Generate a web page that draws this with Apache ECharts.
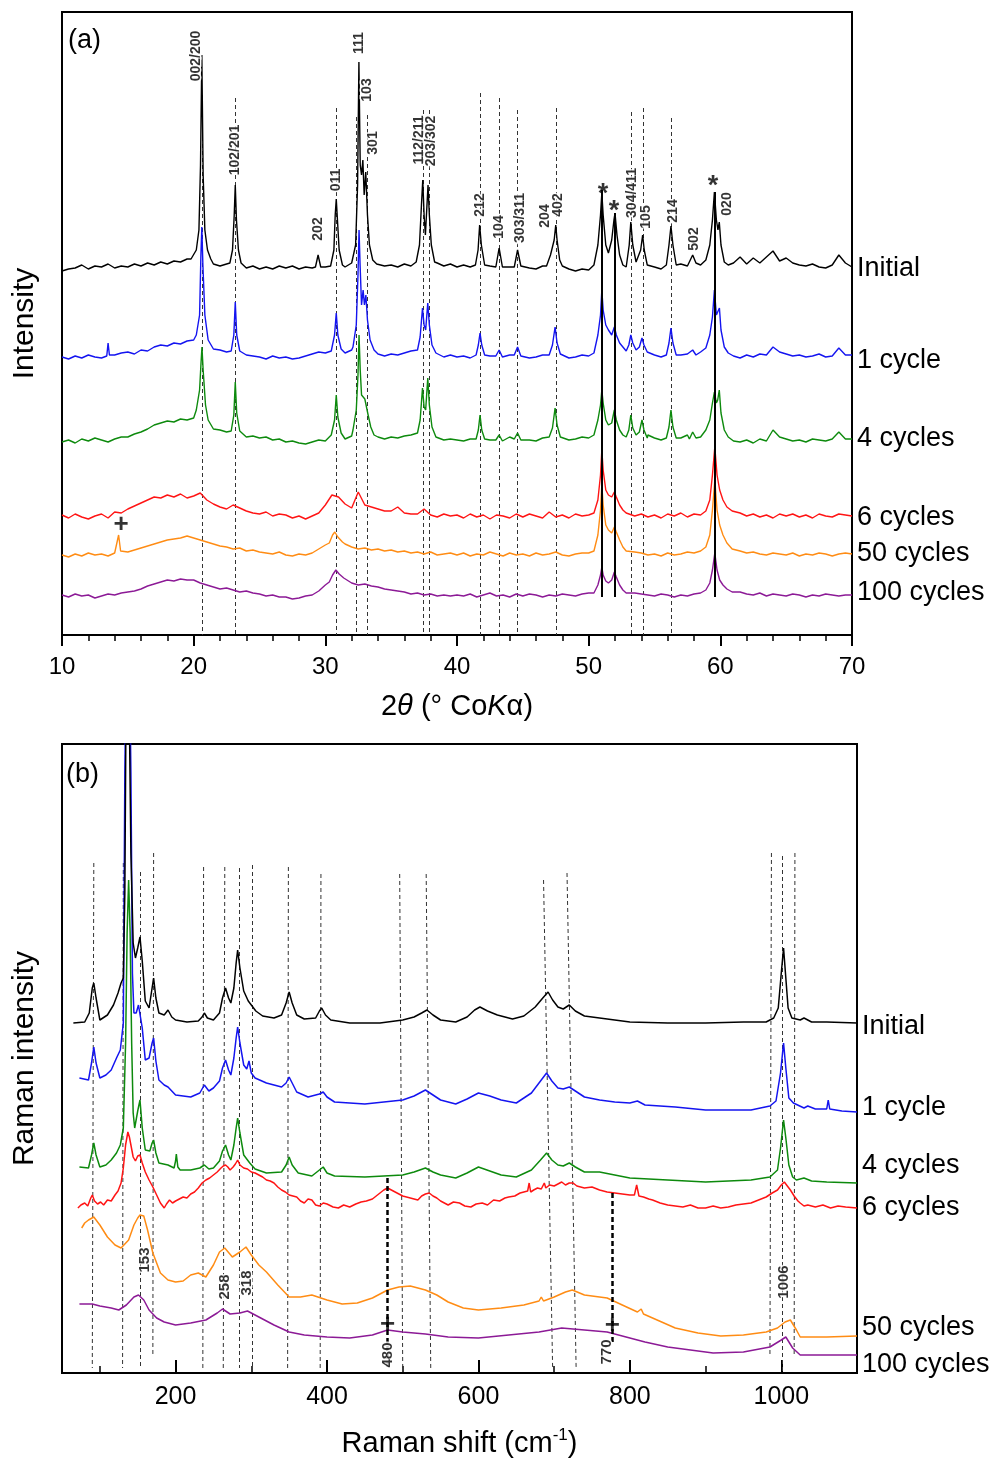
<!DOCTYPE html>
<html><head><meta charset="utf-8">
<script src="https://cdn.jsdelivr.net/npm/echarts/dist/echarts.min.js"></script>
<style>html,body{margin:0;padding:0;background:#fff}#c{width:997px;height:1460px}</style>
</head><body><div id="c"></div>
<script>
// ---------------- (a) XRD data ----------------
const xrdNames = ['Initial','1 cycle','4 cycles','6 cycles','50 cycles','100 cycles'];
const xrdX0 = 10, xrdDx = 0.5; // baseline sampling in degrees 2θ
const xrdBaseInitial = [
364,366,367,370,366,369,368,371,367,369, 368,371,369,372,370,373,371,374,373,376,
378,380,375,371,369,371,372,370,367,369, 366,368,366,369,367,369,366,368,367,370,
368,371,369,368,370,372,374,373,371,369, 370,368,371,369,372,373,374,372,369,371,
368,370,368,371,372,369,367,370,368,371, 370,367,366,369,370,372,368,366,364,366,
365,370,372,375,370,372,368,369,371,368, 368,366,369,368,371,369,368,370,372,375,
373,370,372,378,371,377,372,378,384,374, 377,372,370,369,371,368,367,370,380,372, 368];
const xrdPeaksInitial = [
 [[19.8,376],[20.2,385],[20.4,405],[20.52,470],[20.62,580],[20.72,460],[20.85,405],[21.05,385],[21.3,376]],
 [[22.75,372],[22.95,385],[23.08,420],[23.16,450],[23.25,415],[23.4,385],[23.6,372]],
 [[29.25,368],[29.45,380],[29.65,368]],
 [[30.4,369],[30.65,385],[30.75,420],[30.83,436],[30.92,415],[31.05,385],[31.3,370]],
 [[32.0,372],[32.3,390],[32.45,450],[32.55,573],[32.65,470],[32.75,460],[32.85,475],[32.95,440],[33.07,463],[33.2,420],[33.35,390],[33.6,375],[33.9,371]],
 [[36.9,373],[37.15,390],[37.3,430],[37.4,455],[37.5,420],[37.6,400],[37.7,425],[37.8,450],[37.9,420],[38.05,390],[38.3,373]],
 [[41.4,370],[41.6,385],[41.72,410],[41.85,390],[42.1,370]],
 [[42.95,368],[43.2,387],[43.45,368]],
 [[44.35,368],[44.6,385],[44.85,369]],
 [[46.8,369],[47.1,380],[47.25,388],[47.38,395],[47.5,410],[47.6,395],[47.8,375],[48.0,369]],
 [[50.4,370],[50.7,390],[50.9,420],[51.0,442],[51.1,420],[51.3,390],[51.5,382],[51.75,395],[51.92,415],[52.0,422],[52.15,400],[52.35,380],[52.6,370],[52.85,368]],
 [[52.9,370],[53.08,390],[53.2,413],[53.35,390],[53.6,373],[53.75,372],[53.95,385],[54.1,400],[54.22,385],[54.45,370]],
 [[55.9,370],[56.1,390],[56.25,409],[56.4,390],[56.65,370]],
 [[57.65,371],[57.9,380],[58.15,372]],
 [[58.9,375],[59.2,390],[59.4,415],[59.55,443],[59.7,415],[59.82,405],[59.92,413],[60.05,390],[60.3,373],[60.6,370]]
];
const xrdBase1 = [
278,276,279,277,280,278,277,279,280,282, 283,281,285,284,288,290,289,292,291,294,
295,300,292,286,285,283,284,282,280,279, 278,276,279,277,278,276,277,279,281,283,
282,284,283,282,285,290,288,283,281,279, 281,280,282,284,290,295,283,280,278,280,
278,279,277,280,282,279,281,278,280,284, 279,277,278,280,281,283,279,277,278,280,
279,283,296,300,297,299,294,297,290,284, 280,278,281,279,280,281,281,283,288,295,
290,281,279,277,280,278,281,280,288,283, 281,279,280,278,279,281,278,279,287,280, 280];
const xrdPeaks1 = [
 [[13.4,279],[13.5,292],[13.6,280]],
 [[20.2,300],[20.45,320],[20.55,380],[20.62,408],[20.7,370],[20.85,320],[21.1,295]],
 [[22.85,284],[23.05,300],[23.16,333],[23.27,300],[23.5,284]],
 [[30.45,284],[30.7,300],[30.83,322],[30.95,300],[31.2,286]],
 [[32.1,288],[32.35,310],[32.48,360],[32.56,405],[32.64,370],[32.75,330],[32.87,345],[32.97,330],[33.08,340],[33.2,315],[33.4,295],[33.7,285]],
 [[37.0,285],[37.2,298],[37.38,327],[37.5,310],[37.62,305],[37.78,332],[37.9,310],[38.1,290],[38.4,282]],
 [[41.45,280],[41.62,290],[41.75,302],[41.88,290],[42.1,280]],
 [[42.95,279],[43.2,285],[43.45,278]],
 [[44.35,280],[44.6,288],[44.85,279]],
 [[47.0,280],[47.25,290],[47.45,308],[47.6,292],[47.85,281]],
 [[50.4,282],[50.7,300],[50.9,320],[51.0,345],[51.1,325],[51.3,310],[51.5,305],[51.75,300],[51.95,308],[52.1,300],[52.35,292],[52.6,288],[52.85,284]],
 [[52.9,284],[53.05,290],[53.2,300],[53.35,292],[53.6,285],[53.85,288],[54.05,297],[54.2,290],[54.45,283]],
 [[55.9,280],[56.1,292],[56.25,307],[56.4,292],[56.65,280]],
 [[57.65,280],[57.9,285],[58.15,280]],
 [[58.9,287],[59.2,300],[59.4,318],[59.55,345],[59.7,320],[59.82,318],[59.93,327],[60.05,305],[60.3,288],[60.6,282]]
];
const xrdBase4 = [
193,195,192,196,194,197,195,193,196,198, 198,201,203,206,210,212,214,213,216,215,
217,220,210,206,205,203,204,200,198,199, 197,198,195,196,193,194,192,191,193,195,
194,197,198,196,199,203,200,197,198,196, 198,197,199,200,205,210,200,197,195,196,
195,194,196,193,197,195,196,194,198,202, 196,195,194,197,196,199,197,195,196,198,
197,200,210,215,212,213,208,211,205,200, 197,195,196,198,197,200,196,198,203,210,
205,197,194,193,195,192,196,194,205,198, 196,194,195,193,196,195,194,196,203,196, 196];
const xrdPeaks4 = [
 [[20.2,225],[20.45,245],[20.55,270],[20.63,288],[20.72,265],[20.9,230],[21.1,215]],
 [[22.85,204],[23.05,220],[23.16,253],[23.27,222],[23.5,204]],
 [[30.45,200],[30.7,215],[30.83,240],[30.95,218],[31.2,202]],
 [[32.1,205],[32.35,225],[32.48,260],[32.56,300],[32.65,265],[32.75,240],[32.88,242],[33.0,236],[33.1,238],[33.25,220],[33.45,208],[33.7,200]],
 [[37.0,202],[37.2,215],[37.38,247],[37.5,228],[37.62,225],[37.78,257],[37.9,230],[38.1,208],[38.4,198]],
 [[41.45,196],[41.62,205],[41.75,220],[41.88,205],[42.1,196]],
 [[42.95,195],[43.2,200],[43.45,194]],
 [[44.35,196],[44.6,202],[44.85,195]],
 [[47.0,198],[47.25,207],[47.45,227],[47.6,210],[47.85,198]],
 [[50.4,200],[50.7,215],[50.9,230],[51.0,245],[51.1,232],[51.3,215],[51.5,210],[51.75,212],[51.95,225],[52.1,215],[52.35,205],[52.6,200],[52.85,198]],
 [[52.9,198],[53.05,205],[53.2,220],[53.35,207],[53.6,200],[53.85,203],[54.05,215],[54.2,205],[54.45,197]],
 [[55.9,197],[56.1,208],[56.25,225],[56.4,208],[56.65,197]],
 [[57.65,196],[57.9,203],[58.15,197]],
 [[58.9,205],[59.2,215],[59.4,232],[59.55,243],[59.7,232],[59.8,235],[59.92,245],[60.05,222],[60.3,205],[60.6,198]]
];
const xrdBase6 = [
120,117,121,118,116,119,121,117,123,122, 126,129,132,135,138,137,140,138,141,137,
139,142,135,131,128,126,130,127,124,122, 121,123,119,121,120,117,119,116,119,122,
130,140,138,131,127,143,130,128,126,124, 124,128,122,121,121,126,120,118,121,119,
120,117,121,118,120,116,120,119,117,121, 118,121,119,117,123,118,120,117,121,119,
120,124,130,128,130,124,122,119,121,118, 120,117,121,119,122,118,121,120,125,150,
150,130,125,122,119,121,118,120,117,121, 119,121,118,120,117,121,119,118,121,120, 119];
const xrdPeaks6 = [
 [[50.4,122],[50.7,135],[50.9,160],[51.0,185],[51.1,165],[51.3,145],[51.5,140],[51.75,138],[51.95,143],[52.1,138],[52.35,130],[52.6,125],[52.85,122]],
 [[58.9,124],[59.2,135],[59.4,160],[59.58,188],[59.75,160],[59.95,145],[60.2,135],[60.5,128],[60.9,124]]
];
const xrdBase50 = [
80,78,81,79,82,80,81,79,82,84, 83,85,87,89,91,93,95,96,97,99,
97,95,93,91,89,88,86,87,84,85, 83,82,81,83,80,79,81,80,82,86,
90,100,97,91,88,86,87,85,86,84, 85,83,84,82,83,81,83,80,81,82,
80,82,79,81,80,83,81,79,82,80, 81,79,82,80,81,83,80,79,81,82,
82,88,150,105,108,95,86,83,82,80, 81,79,82,80,81,83,82,84,88,95,
110,92,86,84,82,83,81,80,82,81, 80,82,79,81,80,82,81,79,81,82, 81];
const xrdPeaks50 = [
 [[14.15,82],[14.3,100],[14.45,84]],
 [[30.3,92],[30.55,100],[30.72,103],[30.95,98],[31.3,93]],
 [[50.4,84],[50.7,100],[50.9,125],[51.0,150],[51.1,130],[51.3,110],[51.5,105],[51.75,102],[51.95,108],[52.1,103],[52.35,95],[52.6,88],[52.85,84]],
 [[58.9,88],[59.2,100],[59.4,125],[59.58,155],[59.75,125],[59.95,110],[60.2,100],[60.5,92],[60.9,86]]
];
const xrdBase100 = [
40,38,41,39,40,37,39,41,40,42, 43,44,46,49,51,53,55,54,56,55,
55,52,50,48,46,47,45,43,44,42, 41,39,40,38,38,36,37,39,40,44,
50,63,60,55,52,50,51,49,48,46, 45,44,43,41,42,40,41,39,40,39,
40,39,41,38,40,42,39,40,38,41, 39,41,40,38,40,39,41,40,39,41,
42,46,68,55,63,50,44,42,41,40, 39,41,40,38,40,39,41,42,45,50,
60,48,44,43,41,40,42,39,41,40, 39,41,40,38,40,39,41,40,39,40, 40];
const xrdPeaks100 = [
 [[30.3,53],[30.55,60],[30.8,65],[31.05,61],[31.4,57]],
 [[50.4,42],[50.7,50],[50.9,60],[51.0,68],[51.1,60],[51.3,54],[51.5,52],[51.75,55],[51.95,63],[52.1,58],[52.35,50],[52.6,45],[52.85,42]],
 [[58.9,45],[59.2,52],[59.4,65],[59.58,82],[59.75,65],[59.95,55],[60.2,50],[60.5,46],[60.9,43]]
];
// reference lines (a)
const xrdDashX   = [20.62,23.16,30.83,32.35,33.15,37.42,37.88,41.75,43.2,44.57,47.55,53.25,54.15,56.28];
const xrdDashTop = [540,537,527,518,520,525,525,542,537,525,527,523,527,517];
const xrdSolidX   = [51.0,52.0,59.55];
const xrdSolidTop = [445,422,443];
const xrdSolidBottom = 38;
// hkl labels (a): [2θ, intensity, text]
const xrdHkl = [[20.18,579,'002/200'],[23.14,485,'102/201'],[29.44,406,'202'],[30.81,455,'011'],
 [32.56,592,'111'],[33.16,545,'103'],[33.62,492,'301'],[37.11,495,'112/211'],[38.03,494,'203/302'],
 [41.75,430,'212'],[43.19,408,'104'],[44.78,417,'303/311'],[46.68,419,'204'],[47.67,430,'402'],
 [53.29,442,'304/411'],[54.35,418,'105'],[56.4,424,'214'],[58.0,396,'502'],[60.5,431,'020']];
const xrdStars = [[51.09,440],[51.92,423],[59.44,448]];
const xrdPlus  = [[14.48,110]];

// ---------------- (b) Raman data ----------------
const ramanNames = ['Initial','1 cycle','4 cycles','6 cycles','50 cycles','100 cycles'];
const ramanInitial = [[65,350],[80,351],[86,360],[90,385],[92,390],[95,375],[100,353],[110,358],[118,368],[124,380],[128,390],[131,395],[133,480],[135,720],[138,720],[141,520],[144,430],[147,415],[150,425],[153,436],[156,412],[160,372],[165,365],[169,385],[171,395],[174,375],[178,360],[185,358],[190,363],[195,356],[200,353],[215,351],[230,352],[235,356],[238,360],[242,355],[250,353],[258,360],[262,375],[266,385],[270,375],[273,370],[277,385],[280,410],[282,423],[285,405],[290,382],[296,372],[300,368],[306,362],[315,357],[330,355],[340,358],[346,370],[350,381],[354,370],[360,358],[370,354],[385,355],[390,362],[393,365],[398,358],[405,353],[430,350],[470,350],[500,353],[515,356],[525,360],[532,363],[540,358],[550,353],[570,351],[585,356],[595,363],[602,366],[612,362],[625,358],[645,354],[660,357],[675,366],[685,375],[692,381],[698,373],[705,366],[712,364],[720,368],[728,362],[740,357],[760,355],[780,353],[800,351],[850,350],[900,350],[950,351],[980,351],[990,355],[996,365],[1000,400],[1003,425],[1006,395],[1009,365],[1014,355],[1025,353],[1030,355],[1040,351],[1060,351],[1100,350]];
const raman1 = [[73,295],[85,293],[89,310],[92,326],[95,310],[100,295],[108,298],[115,303],[122,315],[127,323],[131,350],[133,600],[135,720],[139,720],[141,600],[143,400],[145,360],[148,360],[151,368],[153,370],[156,345],[160,313],[165,315],[169,330],[171,335],[174,312],[178,293],[185,288],[190,286],[195,282],[200,278],[220,276],[232,280],[238,288],[244,282],[250,285],[258,292],[262,305],[266,313],[270,303],[273,298],[277,315],[280,335],[282,346],[285,330],[290,308],[294,304],[297,312],[300,300],[305,295],[320,290],[340,286],[346,290],[350,296],[354,290],[360,281],[375,276],[390,279],[395,281],[400,276],[410,271],[450,269],[500,273],[515,277],[530,283],[540,278],[550,273],[570,269],[585,274],[600,280],[615,277],[630,273],[650,270],[670,280],[682,292],[690,300],[697,292],[705,285],[712,284],[720,286],[728,282],[740,276],[760,273],[780,271],[800,270],[810,272],[820,268],[860,266],[900,263],[960,263],[985,267],[993,272],[999,300],[1003,330],[1006,305],[1010,275],[1016,270],[1030,265],[1035,267],[1045,264],[1060,264],[1062,273],[1064,264],[1080,262],[1100,261]];
const raman4 = [[73,206],[85,205],[89,218],[92,230],[95,218],[100,206],[108,208],[115,213],[122,220],[127,228],[131,245],[134,330],[136,440],[138,493],[140,440],[142,330],[144,260],[146,245],[150,262],[153,273],[156,245],[160,223],[166,222],[169,230],[171,233],[174,220],[178,210],[190,208],[198,205],[200,212],[201,219],[203,206],[206,203],[220,203],[232,205],[238,208],[244,204],[250,205],[258,212],[262,222],[266,228],[270,218],[273,213],[277,228],[280,245],[282,255],[285,240],[290,218],[298,210],[305,204],[320,200],[340,201],[346,208],[350,216],[354,208],[362,200],[380,197],[390,203],[395,206],[400,200],[410,197],[450,196],[500,198],[515,201],[530,205],[540,201],[550,198],[570,195],[585,200],[600,206],[615,202],[630,198],[650,196],[670,203],[682,213],[690,220],[697,213],[705,208],[712,207],[720,210],[728,206],[740,201],[760,201],[780,198],[800,195],[850,193],[900,191],[960,193],[985,196],[995,203],[999,225],[1003,253],[1006,235],[1010,208],[1015,196],[1020,193],[1030,195],[1040,192],[1060,191],[1100,190]];
const raman6 = [[71,165],[75,168],[80,170],[84,167],[88,175],[90,178],[93,172],[97,169],[101,171],[105,168],[110,173],[115,172],[120,178],[124,182],[128,190],[131,205],[134,228],[137,241],[139,236],[141,228],[144,216],[147,212],[150,217],[153,218],[156,210],[160,201],[165,193],[170,186],[175,178],[180,170],[185,165],[188,169],[192,173],[196,170],[200,172],[205,174],[210,176],[215,175],[220,179],[225,181],[230,185],[235,190],[240,193],[245,195],[250,198],[255,201],[260,205],[263,207],[266,208],[269,206],[272,203],[276,206],[279,209],[282,213],[285,208],[290,205],[295,204],[300,201],[305,200],[310,198],[315,196],[320,193],[325,192],[330,190],[335,186],[340,183],[345,181],[350,178],[355,177],[360,176],[365,172],[370,170],[375,174],[380,173],[385,168],[390,167],[395,170],[400,169],[408,166],[415,165],[422,168],[430,166],[438,169],[445,171],[452,172],[460,174],[465,177],[470,180],[475,183],[480,185],[485,183],[490,181],[495,179],[500,177],[505,176],[510,175],[515,174],[520,173],[525,177],[530,179],[535,180],[540,177],[545,175],[550,172],[555,170],[560,168],[567,171],[575,170],[582,167],[590,166],[597,169],[605,170],[612,168],[620,173],[628,172],[635,175],[640,176],[648,177],[655,180],[660,181],[665,182],[667,190],[669,181],[673,183],[678,185],[683,184],[687,190],[689,185],[694,188],[700,187],[705,189],[710,191],[715,188],[720,190],[725,190],[730,187],[740,185],[750,186],[760,183],[770,181],[780,180],[790,179],[800,178],[806,178],[809,188],[812,177],[818,176],[825,174],[830,173],[840,170],[850,168],[860,167],[870,166],[880,168],[890,165],[900,165],[910,167],[920,165],[930,166],[940,168],[950,169],[960,170],[970,173],[980,176],[988,180],[995,183],[1000,188],[1004,191],[1008,187],[1012,183],[1017,177],[1022,172],[1025,170],[1030,167],[1035,168],[1045,166],[1055,168],[1065,165],[1075,167],[1085,166],[1100,165]];
const raman50 = [[76,145],[80,150],[85,153],[92,156],[100,148],[110,136],[120,128],[128,125],[138,133],[145,148],[150,155],[153,158],[158,157],[163,143],[170,120],[180,100],[190,93],[200,91],[210,92],[220,98],[230,100],[240,96],[250,108],[258,121],[265,125],[275,116],[285,121],[293,126],[300,118],[310,108],[320,101],[335,88],[350,76],[365,76],[380,78],[400,73],[420,69],[440,70],[460,75],[480,83],[495,86],[510,87],[530,83],[545,78],[560,71],[580,65],[600,63],[630,65],[660,68],[680,72],[683,76],[686,72],[700,76],[715,81],[724,83],[740,78],[770,75],[790,68],[810,61],[815,64],[818,59],[830,55],[860,45],[890,40],[920,37],[950,38],[980,41],[995,45],[1005,51],[1012,53],[1020,43],[1025,36],[1060,36],[1100,37]];
const raman100 = [[73,69],[90,69],[100,67],[115,65],[125,63],[135,68],[145,76],[151,78],[158,73],[165,63],[175,55],[185,51],[200,48],[220,50],[240,53],[255,60],[262,64],[272,59],[285,60],[295,62],[310,56],[330,48],[350,41],[370,38],[400,36],[430,35],[460,38],[480,43],[500,41],[530,39],[560,36],[600,35],[640,38],[680,41],[710,45],[740,43],[770,41],[790,37],[820,31],[850,26],[880,23],[910,20],[950,21],[985,26],[1000,33],[1006,36],[1015,25],[1025,18],[1060,18],[1100,18]];
// reference lines (b)
const ramanDashTopX = [92,131,154,171,237,265,284,301,349,392,496,531,686,717,987,1001,1018];
const ramanDashBotX = [90,130,154,170,236,263,284,301,348,391,500,537,698,729,985,1001,1017];
const ramanDashTop  = [510,510,501,520,506,506,505,508,506,499,499,499,493,500,520,517,520];
const ramanDashBot  = [5,5,5,16,5,5,5,5,5,5,5,5,5,6,16,0,16];
const ramanBoldX   = [480,777];
const ramanBoldTop = [195,180];
const ramanBoldBot = [6,30];
const ramanPeakLabels = [[159,113,'153'],[265,86,'258'],[294,90,'318'],[480,18,'480'],[770,21,'770'],[1003,91,'1006']];
const ramanPlus = [[480,48],[777,47]];
const ramanTickMajor = [200,400,600,800,1000];
const ramanTickMinor = [100,300,500,700,900];

// ---------------- build ----------------
const FONT = "'Liberation Sans', Arial, Helvetica, sans-serif";
const colors = ['#000000','#1414f0','#0d8a0d','#ff1414','#ff8c14','#8c1a96'];
const xrdLabelDy = [2,6,0,2,0,-2];
const ramanLabelDy = [4,-4,-17,0,-8,10];
const ramanZ = [3,2,4,2,2,2];

function buildXrd(base, peaks){
  const ranges = peaks.map(g => [g[0][0], g[g.length-1][0]]);
  const pts = [];
  base.forEach((y,i)=>{
    const x = +(xrdX0 + i*xrdDx).toFixed(2);
    if(!ranges.some(r => x >= r[0] && x <= r[1])) pts.push([x,y]);
  });
  peaks.forEach(g => g.forEach(p => pts.push(p)));
  pts.sort((a,b)=>a[0]-b[0]);
  return pts;
}
const xrdData = [
  buildXrd(xrdBaseInitial, xrdPeaksInitial), buildXrd(xrdBase1, xrdPeaks1), buildXrd(xrdBase4, xrdPeaks4),
  buildXrd(xrdBase6, xrdPeaks6), buildXrd(xrdBase50, xrdPeaks50), buildXrd(xrdBase100, xrdPeaks100)];
const ramanData = [ramanInitial, raman1, raman4, raman6, raman50, raman100];

const series = [];
function lineSeries(name, data, color, xi, yi, dy, w, z){
  return {type:'line', name, data, xAxisIndex:xi, yAxisIndex:yi, showSymbol:false, symbol:'none', z,
    clip:true, lineStyle:{color, width:w}, itemStyle:{color}, silent:true,
    endLabel:{show:true, formatter:name, color:'#000', fontSize:27, fontFamily:FONT, distance:5, offset:[0,dy]}};
}
xrdNames.forEach((n,i)=>series.push(lineSeries(n, xrdData[i], colors[i], 0, 0, xrdLabelDy[i], 1.4, 2)));
ramanNames.forEach((n,i)=>series.push(lineSeries(n, ramanData[i], colors[i], 1, 1, ramanLabelDy[i], 1.5, ramanZ[i])));

// dashed reference lines
series.push({type:'lines', coordinateSystem:'cartesian2d', xAxisIndex:0, yAxisIndex:0, silent:true, z:1,
  lineStyle:{color:'#333', width:1, type:[4,3], opacity:1},
  data: xrdDashX.map((x,i)=>({coords:[[x,xrdDashTop[i]],[x,0]]}))});
series.push({type:'lines', coordinateSystem:'cartesian2d', xAxisIndex:0, yAxisIndex:0, silent:true, z:3,
  lineStyle:{color:'#000', width:2, opacity:1},
  data: xrdSolidX.map((x,i)=>({coords:[[x,xrdSolidTop[i]],[x,xrdSolidBottom]]}))});
series.push({type:'lines', coordinateSystem:'cartesian2d', xAxisIndex:1, yAxisIndex:1, silent:true, z:1,
  lineStyle:{color:'#333', width:1, type:[4,3], opacity:1},
  data: ramanDashTopX.map((x,i)=>({coords:[[x,ramanDashTop[i]],[ramanDashBotX[i],ramanDashBot[i]]]}))});
series.push({type:'lines', coordinateSystem:'cartesian2d', xAxisIndex:1, yAxisIndex:1, silent:true, z:3,
  lineStyle:{color:'#000', width:2.5, type:[5,3], opacity:1},
  data: ramanBoldX.map((x,i)=>({coords:[[x,ramanBoldTop[i]],[x,ramanBoldBot[i]]]}))});

function textSeries(data, xi, yi, rot, size, weight, fmt, halo){
  return {type:'scatter', xAxisIndex:xi, yAxisIndex:yi, symbolSize:0, silent:true, z:5, data,
    label:{show:true, position:'inside', rotate:rot, fontSize:size, fontWeight:weight, fontFamily:FONT, color:'#000',
      textBorderColor: halo ? '#fff' : 'transparent', textBorderWidth: halo ? 3 : 0, formatter: fmt}};
}
series.push(textSeries(xrdHkl, 0, 0, 90, 14, 'bold', p=>p.data[2], true));
series.push(textSeries(xrdStars, 0, 0, 0, 27, 'bold', ()=>'*', false));
series.push(textSeries(xrdPlus, 0, 0, 0, 26, 'bold', ()=>'+', false));
series.push(textSeries(ramanPeakLabels, 1, 1, 90, 15, 'bold', p=>p.data[2], true));
series.push(textSeries(ramanPlus, 1, 1, 0, 26, 'bold', ()=>'+', false));

const axisBlack = {lineStyle:{color:'#000', width:2}};
const option = {
  animation:false,
  backgroundColor:'#fff',
  grid:[
    {left:62, top:12, width:790, height:623, show:true, borderColor:'#000', borderWidth:2, backgroundColor:'transparent'},
    {left:62, top:744, width:795, height:629, show:true, borderColor:'#000', borderWidth:2, backgroundColor:'transparent'}
  ],
  xAxis:[
    {gridIndex:0, type:'value', min:10, max:70, interval:10, axisLine:axisBlack,
     axisTick:{inside:false, length:11, lineStyle:{color:'#000', width:2}},
     minorTick:{show:true, splitNumber:5, length:6, lineStyle:{color:'#000', width:1.5}},
     splitLine:{show:false}, minorSplitLine:{show:false},
     axisLabel:{fontSize:24, color:'#000', margin:20, fontFamily:FONT},
     name:'{a|2}{b|θ}{a| (° Co}{b|K}{a|α)}', nameLocation:'middle', nameGap:57,
     nameTextStyle:{rich:{a:{fontSize:29, color:'#000', fontFamily:FONT}, b:{fontSize:29, color:'#000', fontStyle:'italic', fontFamily:FONT}}}},
    {gridIndex:1, type:'value', min:50, max:1100, axisLine:axisBlack,
     axisTick:{inside:true, length:13, customValues:ramanTickMajor, lineStyle:{color:'#000', width:2}},
     splitLine:{show:false},
     axisLabel:{customValues:ramanTickMajor, formatter:v=>String(v), fontSize:25, color:'#000', margin:12, fontFamily:FONT},
     name:'{a|Raman shift (cm}{s|-1}{a|)}', nameLocation:'middle', nameGap:54,
     nameTextStyle:{rich:{a:{fontSize:29, color:'#000', fontFamily:FONT}, s:{fontSize:17, color:'#000', fontFamily:FONT, padding:[0,0,16,0]}}}},
    {gridIndex:1, type:'value', min:50, max:1100, position:'bottom', axisLine:{show:false},
     axisTick:{inside:true, length:7, customValues:ramanTickMinor, lineStyle:{color:'#000', width:1.5}},
     axisLabel:{show:false}, splitLine:{show:false}}
  ],
  yAxis:[
    {gridIndex:0, type:'value', min:0, max:623, axisLine:{show:false}, axisTick:{show:false}, axisLabel:{show:false}, splitLine:{show:false},
     name:'Intensity', nameLocation:'middle', nameRotate:90, nameGap:22, nameTextStyle:{fontSize:30, color:'#000', fontFamily:FONT}},
    {gridIndex:1, type:'value', min:0, max:629, axisLine:{show:false}, axisTick:{show:false}, axisLabel:{show:false}, splitLine:{show:false},
     name:'Raman intensity', nameLocation:'middle', nameRotate:90, nameGap:22, nameTextStyle:{fontSize:30, color:'#000', fontFamily:FONT}}
  ],
  graphic:[
    {type:'text', left:68, top:27, style:{text:'(a)', fontSize:27, fill:'#000', fontFamily:FONT}},
    {type:'text', left:66, top:761, style:{text:'(b)', fontSize:27, fill:'#000', fontFamily:FONT}}
  ],
  series
};
const chart = echarts.init(document.getElementById('c'), null, {renderer:'canvas'});
chart.setOption(option);
</script></body></html>
